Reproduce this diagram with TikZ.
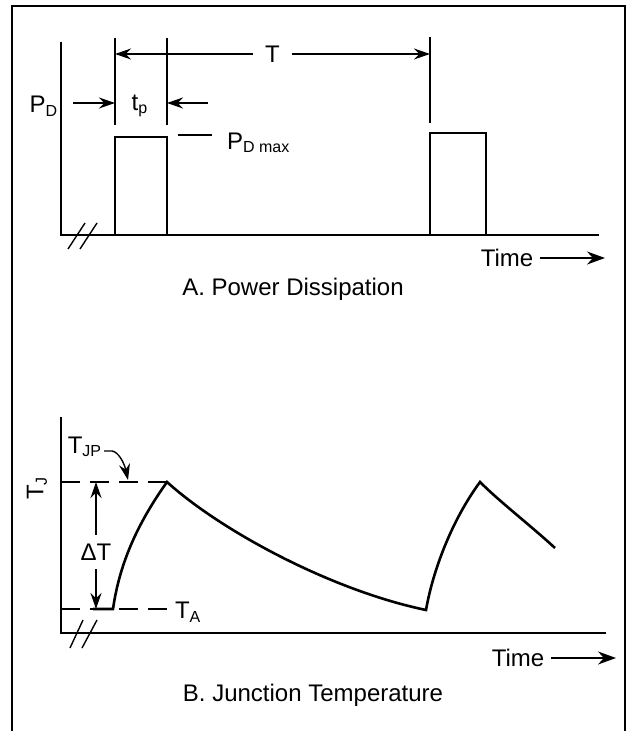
\documentclass[tikz,border=0pt]{standalone}
\usepackage{fontspec}
\setmainfont{Liberation Sans}
\usetikzlibrary{arrows.meta}

\tikzset{
  curve/.style={line width=1.3pt},
  guide/.style={line width=0.7pt},
  tip/.style={-{Stealth[length=8pt,width=5.5pt]}},
  bigtip/.style={-{Stealth[length=9pt,width=6.5pt]}},
  dim/.style={{Stealth[length=8pt,width=5.5pt]}-{Stealth[length=8pt,width=5.5pt]}},
  level/.style={line width=1.2pt, dash pattern=on 9.5pt off 5pt},
}

\begin{document}
\begin{tikzpicture}[x=0.5pt,y=-0.5pt,font=\fontsize{12}{14}\selectfont]
\useasboundingbox (0,0) rectangle (634,731);
\draw[line width=1.2pt] (12,731) -- (12,6) -- (625,6) -- (625,731);

% A. power dissipation
\draw[curve] (61,42) -- (61,235) -- (599,235);
\draw[guide] (68,249) -- ++(17,-26);
\draw[guide] (80,249) -- ++(17,-26);
\draw[curve] (115,235) -- (115,137) -- (167,137) -- (167,235);
\draw[curve] (430,235) -- (430,133) -- (486,133) -- (486,235);
\draw[guide] (115,38) -- (115,125);
\draw[guide] (167,38) -- (167,125);
\draw[guide] (430,37) -- (430,123);

\coordinate (t1) at (115,54);
\coordinate (t2) at (430,54);
\draw[guide,dim] (t1) -- node[fill=white,inner xsep=6pt]{T} (t2);

\coordinate (tpl) at (73,103);
\coordinate (tpr) at (208,103);
\coordinate (p1l) at (115,103);
\coordinate (p1r) at (167,103);
\draw[guide,tip] (tpl) -- (p1l);
\draw[guide,tip] (tpr) -- (p1r);
\node (tp) at (140,106) {t\textsubscript{p}};
\node (pd) at (44,106) {P\textsubscript{D}};
\draw[guide] (178,135) -- (212,135);
\node[anchor=west] (pdmax) at (220,143) {P\textsubscript{D max}};

\node (timeA) at (507,258) {Time};
\coordinate (timeAend) at (605,258);
\draw[guide,bigtip] (timeA.east) -- (timeAend);
\node (capA) at (293,289) {A. Power Dissipation};

% B. junction temperature
\draw[curve] (61,417) -- (61,633) -- (606,633);
\draw[guide] (70,648) -- ++(13,-28);
\draw[guide] (82,648) -- ++(15,-28);
\node[rotate=90] (tj) at (37,488) {T\textsubscript{J}};
\draw[level] (61,482) -- (167,482);
\draw[level] (61,609) -- (167,609);
\node[anchor=west] (ta) at (168,612) {T\textsubscript{A}};

\draw[curve] (93,609) -- (113,609) .. controls (120,560) and (140,520) .. (167,482)
  .. controls (220,530) and (330,590) .. (426,610)
  .. controls (433,570) and (452,520) .. (480,482)
  .. controls (500,502) and (530,525) .. (555,548);

\coordinate (dtop) at (96,482);
\coordinate (dbot) at (96,609);
\draw[guide,dim] (dtop) -- node[pos=0.55,fill=white,inner ysep=4.5pt]{ΔT} (dbot);

\node (tjp) at (85,447) {T\textsubscript{JP}};
\coordinate (tjptip) at (128,480);
\draw[guide,tip] ([xshift=-2.5pt,yshift=-2pt]tjp.east) -- ++(8,0) .. controls (118,452) and (124,462) .. (tjptip);

\node (timeB) at (518,658) {Time};
\coordinate (timeBend) at (616,658);
\draw[guide,bigtip] (timeB.east) -- (timeBend);
\node (capB) at (313,695) {B. Junction Temperature};
\end{tikzpicture}
\end{document}
